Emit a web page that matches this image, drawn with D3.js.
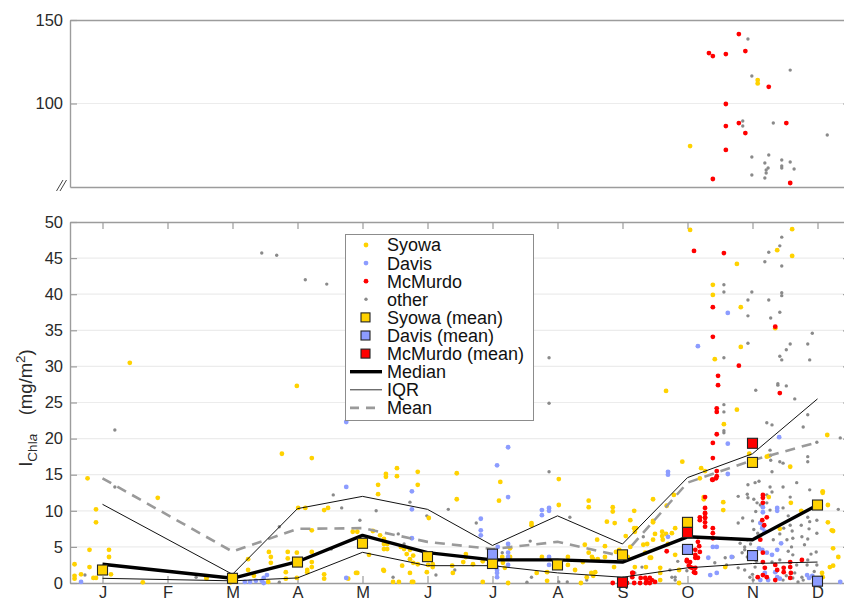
<!DOCTYPE html>
<html>
<head>
<meta charset="utf-8">
<script src="https://cdn.jsdelivr.net/npm/d3@7"></script>
<style>
	body { margin: 0; background: #fff; }
	text { font-family: "Liberation Sans", Arial, Helvetica, sans-serif; }
</style>
</head>
<body>
<svg id="chart" width="844" height="603"></svg>
<script>
// month labels, one per month (index = month, centre at i + 0.5)
var monthLabels = ["J","F","M","A","M","J","J","A","S","O","N","D"];
var yTicksLow = [0,5,10,15,20,25,30,35,40,45,50];
var yTicksHigh = [100,150];

// monthly statistics (null = no data for that month)
var median  = [2.6, null, 0.65, 2.95, 6.6, 4.2, 3.2, 3.2, 2.9, 6.4, 6.0, 10.8];
var iqrHigh = [10.9, null, 1.2, 10.3, 12.0, 10.2, 5.2, 9.3, 5.4, 14.6, 17.9, 25.5];
var iqrLow  = [0.65, null, 0.3, 0.7, 4.25, 2.4, 2.4, 1.4, 0.8, 2.1, 2.7, 2.9];
var meanAll = [14.5, null, 4.35, 7.5, 7.6, 5.7, 4.7, 5.7, 3.7, 13.9, 17.0, 19.5];

var syowaMean   = [1.8, null, 0.65, 2.9, 5.5, 3.65, 2.7, 2.5, 3.9, 8.4, 16.7, 10.8];
var davisMean   = [null, null, null, null, null, null, 4.0, null, null, 4.65, 3.8, 0.25];
var mcmurdoMean = [null, null, null, null, null, null, null, null, 0.1, 7.0, 19.35, null];

// individual samples: [month position (0-12), I_Chla]
var syowa = [
	[0.07,2.6],[0.07,1.0],[0.07,0.6],[0.17,1.2],[0.27,14.5],[0.3,4.6],[0.3,2.2],[0.4,10.2],[0.4,8.4],[0.36,0.7],[0.4,0.7],[0.6,4.6],[0.6,3.6],[0.63,1.2],[0.92,30.5],
	[1.12,0.1],[1.35,11.8],[2.1,0.8],[2.1,0.6],
	[2.47,0.1],[2.74,3.3],[2.74,1.8],[2.83,1.0],[3.05,0.15],[3.06,4.3],[3.09,3.6],[3.09,2.8],
	[3.26,17.9],[3.32,1.5],[3.32,0.6],[3.35,4.3],[3.35,3.4],[3.49,4.2],[3.49,0.7],[3.49,27.3],[3.51,10.4],[3.62,10.4],[3.65,1.8],[3.65,1.5],[3.72,17.3],[3.72,7.3],[3.72,4.3],[3.72,2.9],[3.72,2.2],[3.91,10.1],[3.97,10.4],[3.91,1.2],[3.91,0.6],
	[4.74,13.6],[4.74,12.3],[4.86,15.1],[4.86,14.7],[5.03,14.8],[5.03,15.9],[5.35,15.4],[5.35,13.6],[5.52,9.0],[5.95,15.2],[5.95,11.6],[4.35,7.1],[4.42,7.1],[4.66,7.2],[4.77,6.6],[4.83,6.1],[4.88,5.4],[4.83,5.4],[4.88,4.7],[4.83,4.7],[5.09,5.0],[5.14,4.7],[5.18,4.0],[5.23,4.6],[5.28,3.8],[5.23,3.3],[5.28,2.8],[5.35,2.6],[4.6,3.9],[4.83,1.7],[5.11,2.4],[4.97,0.15],[5.06,0.15],[5.28,0.15],[4.42,1.4],[4.28,0.6],[4.4,1.4],[4.82,1.8],[5.23,1.4],[5.26,0.15],
	[5.49,1.5],[5.51,2.5],[5.58,2.6],[5.58,2.2],[5.88,2.4],[5.89,1.4],[6.09,4.0],[6.09,3.6],[6.05,2.9],[6.2,2.6],[6.35,3.0],[6.35,0.15],
	[6.62,14.0],[6.6,11.4],[6.65,3.6],[6.66,2.8],[6.69,2.1],[6.77,4.8],[6.77,3.6],[6.74,0.0],[7.1,8.3],[7.1,8.0],[7.18,1.4],[7.26,3.6],
	[7.52,14.4],[7.52,10.8],[7.34,1.5],[7.34,0.3],[7.66,3.6],[7.66,2.5],[7.77,1.8],[7.86,0.0],[7.89,2.9],[7.98,11.4],[7.98,10.5],[7.98,4.2],[8.03,3.6],[8.05,3.3],[8.05,1.0],[8.08,1.5],
	[8.35,10.5],[8.35,9.9],[8.26,8.5],[8.38,8.3],[8.4,4.3],[8.11,6.0],[8.23,5.1],[7.92,5.3],[8.12,3.3],[8.23,3.6],[8.02,1.4],[7.95,0.8],[8.62,5.0],[8.68,7.6],[8.55,6.5],[8.62,8.7],[8.69,2.2],[8.97,11.6],[8.88,5.4],[8.94,3.5],[8.97,8.4],[9.11,7.1],[9.11,6.5],[9.18,10.7],[9.29,12.2],[9.2,5.4],[9.08,2.1],[9.08,0.4],[9.37,0.0],[8.68,10.0],[8.37,2.2],[8.45,4.6],[8.51,3.6],[8.69,7.1],[8.71,7.6],[8.82,5.3],[8.58,3.6],[8.85,4.2],[8.92,3.5],[8.97,6.0],[8.86,2.2],[9.17,6.8],[9.12,6.0],[9.31,3.9],[9.37,1.8],[9.08,1.4],[9.26,6.9],[9.31,7.6],[9.46,8.0],[9.0,6.8],[8.97,8.6],
	[9.17,26.6],[9.42,16.8],[9.71,15.9],[9.77,15.5],[9.69,14.5],[9.75,11.9],[9.75,11.6],[10.05,11.2],[10.05,10.1],[10.08,2.2],[9.54,48.9],[9.89,41.3],[9.89,39.9],[9.92,31.0],[10.06,22.0],[10.26,24.0],[10.26,44.2],[10.32,38.2],[10.32,32.7],[10.45,17.9],
	[10.88,46.1],[11.11,49.0],[11.11,45.3],[10.85,35.3],[10.75,11.9],[10.92,7.5],[11.09,11.1],[11.25,10.0],[11.08,16.1],[10.75,17.6],[10.72,17.5],[11.58,12.7],[11.58,12.5],[11.66,10.8],[11.66,8.4],[11.74,7.2],[11.74,4.8],[11.69,2.2],[11.74,2.4],[11.82,3.6],[11.57,1.4],[11.58,0.8],[11.65,20.5],[11.72,7.3],
	[9.54,74.5],[10.58,114],[10.58,112]
];
var davis = [
	[0.17,0.15],[2.69,0.15],[2.77,0.15],[2.86,0.3],[2.95,0.3],[2.98,0.7],[2.98,0.0],[3.03,1.1],
	[4.25,13.3],[5.26,12.7],[5.26,10.2],[5.26,6.2],[4.25,0.7],[4.25,22.3],
	[6.74,18.8],[6.57,16.3],[6.74,11.9],[6.32,8.9],[6.32,7.3],[6.32,6.6],[6.58,5.0],[6.57,2.2],[6.57,1.8],[6.57,1.4],[6.57,0.8],[6.74,5.4],[6.74,4.2],[6.74,3.6],[6.74,2.5],
	[7.26,10.1],[7.26,9.4],[7.37,10.4],[7.37,10.0],[7.37,3.6],[7.37,2.5],
	[9.2,15.4],[9.2,15.0],[9.2,6.4],[9.66,32.8],[10.12,37.4],[10.12,19.3],[10.12,15.1],[9.82,3.5],[9.89,5.0],[9.95,5.0],[9.85,1.1],[9.95,1.4],[10.18,3.6],
	[10.66,10.5],[10.66,9.8],[10.65,7.6],[10.88,10.4],[10.88,10.0],[10.62,8.3],[10.66,7.8],[10.69,7.1],[10.94,5.5],[10.88,4.6],[10.6,4.8],[10.65,4.6],[10.72,4.2],[10.8,3.9],[10.69,1.4],[10.62,0.4],[10.74,0.4],[10.88,0.8],[10.92,0.6],[10.85,1.5],[10.91,20.2],
	[11.34,1.1],[11.37,0.7],[11.42,1.0],[11.85,0.15]
];
var mcmurdo = [
	[8.35,0.0],[8.49,0.0],[8.57,0.0],[8.65,1.4],[8.68,0.0],[8.77,0.0],[8.78,0.7],[8.86,0.0],[8.87,0.4],[8.92,0.7],[8.92,0.0],[9.0,0.15],[9.18,4.4],[8.66,1.4],[8.65,0.8],[8.85,0.7],[8.95,0.4],
	[9.6,46.0],[10.06,45.7],[9.89,38.2],[9.89,34.1],[10.29,30.1],[9.97,28.7],[9.97,27.4],[9.95,24.2],[9.95,23.7],[9.95,20.6],[9.89,19.4],[9.89,17.3],[9.88,14.3],[9.94,14.5],[9.77,11.9],[9.77,10.4],[9.77,9.7],[9.77,9.0],[9.95,15.5],[9.95,14.8],[9.89,14.3],[9.77,9.6],[9.77,9.1],[9.77,8.4],[9.77,7.8],[9.69,9.1],[9.69,8.7],[9.89,7.6],[9.89,6.9],[9.89,6.2],[9.62,4.6],[9.62,3.9],[9.62,3.5],[9.54,2.9],[9.54,2.2],[9.6,1.5],[9.52,2.4],[9.57,2.1],[9.69,4.3],[9.66,3.5],[9.49,4.2],[9.49,3.2],[9.68,5.1],[9.66,5.7],[9.49,3.0],[9.62,1.4],[9.62,2.1],
	[10.85,35.5],[10.92,26.3],[10.66,12.2],[10.66,11.8],[10.66,11.1],[10.65,8.7],[10.68,8.0],[10.72,9.1],[10.62,6.0],[11.26,3.2],[11.08,2.9],[11.08,2.2],[11.09,1.4],[11.08,0.7],[10.98,2.1],[10.98,1.5],[10.88,1.8],[10.85,2.5],[10.85,0.4],[10.72,0.8],[10.69,2.1],[10.66,1.1],[10.58,0.8],[10.66,4.2],[10.66,2.9],
	[9.83,130.2],[9.89,128.4],[10.09,129.6],[10.29,141.6],[10.39,131.4],[10.75,110],[10.09,99.7],[10.09,86.5],[10.29,88.3],[11.02,88.3],[10.39,82.3],[10.09,72.2],[9.89,54.8],[11.08,52.4]
];
var other = [
	[0.23,1.1],[0.69,21.2],[0.69,13.3],[1.94,0.8],[2.95,45.7],[3.18,45.4],[3.22,7.8],[3.22,0.1],[3.62,42.0],[3.95,41.4],
	[4.05,12.2],[4.18,10.4],[4.46,8.7],[4.71,10.0],[5.23,11.2],[5.49,9.3],[5.82,10.2],[4.02,4.7],[4.97,0.8],[5.05,6.8],[5.14,5.4],[5.12,5.0],[5.63,1.1],[5.92,1.8],
	[6.25,8.3],[6.65,4.2],[7.03,0.1],[7.08,5.8],[7.1,0.8],[7.37,15.4],[7.37,31.2],[7.37,24.9],[7.52,0.15],[7.65,0.15],[7.69,9.1],[7.95,0.4],
	[8.8,2.2],[8.82,6.4],[8.69,1.4],[9.35,3.0],[9.31,0.4],[8.62,5.0],[9.23,1.8],[9.26,0.8],[8.97,0.4],[9.31,0.8],[9.49,1.7],
	[10.06,41.3],[10.06,40.3],[10.06,31.2],[10.06,24.7],[10.06,23.7],[10.06,21.1],[10.06,20.8],[10.08,3.5],[9.92,2.8],[10.1,2.5],[10.2,3.6],[10.34,4.2],[10.31,5.5],[10.38,4.6],[10.28,2.1],
	[10.49,40.3],[10.43,39.2],[10.43,37.0],[10.43,33.2],[10.55,26.7],[10.69,44.5],[10.75,45.8],[10.95,47.9],[10.92,46.7],[10.95,43.9],[10.95,40.2],[10.95,39.8],[10.75,39.2],[10.78,36.7],[10.92,37.5],[11.42,34.6],[11.08,33.1],[11.35,33.1],[11.02,32.3],[10.92,31.4],[10.95,30.9],[11.38,30.9],[10.89,27.6],[10.89,27.4],[11.02,27.3],[11.15,25.5],
	[10.43,13.6],[10.54,13.9],[10.6,14.1],[10.28,12.0],[10.42,12.3],[10.43,11.8],[10.52,11.6],[10.72,12.2],[10.72,11.1],[10.57,11.1],[10.35,9.0],[10.28,8.3],[10.58,6.9],
	[10.42,6.0],[10.38,5.0],[10.82,6.0],[10.92,6.8],[11.03,6.0],[11.11,7.2],[11.12,6.2],[10.98,7.6],[11.08,8.0],[11.25,8.0],[11.38,8.5],[11.37,7.5],[11.49,6.9],[11.26,6.4],[11.35,6.1],[10.97,10.4],[10.97,13.3],[11.18,13.9],[11.38,12.9],[11.08,11.9],[10.77,13.3],[10.8,12.6],[10.62,10.8],[10.77,10.1],[11.82,10.2],[11.85,0.15],[11.48,4.3],[11.49,2.5],[11.26,0.8],[11.28,0.4],
	[10.42,3.6],[10.38,1.8],[10.46,0.8],[10.54,2.2],[10.51,0.4],[10.8,2.9],[10.92,3.2],[11.12,3.9],[11.18,2.5],[11.15,1.4],[10.97,0.4],[11.2,0.15],[11.34,2.5],[11.35,3.2],[11.35,9.1],[11.49,8.7],
	[10.55,9.9],[10.5,8.6],[10.52,7.4],[10.47,5.4],[10.53,4.0],[10.56,3.0],[10.5,1.2],[11.05,9.3],[11.1,5.0],[11.05,4.4],[11.02,1.0],[11.12,0.7],[11.3,5.3],[11.4,4.0],[11.45,1.6],
	[10.97,16.6],[11.35,16.8],[11.49,19.5],[10.8,15.4],[10.77,18.4],[10.72,22.2],[10.8,21.9],[11.28,21.6],[11.35,23.3],[10.78,17.7],[10.78,17.0],[10.92,16.8],[11.35,17.5],[11.85,20.1],
	[10.43,138.6],[10.49,116.5],[11.08,120],[10.35,86.5],[10.35,89.5],[10.82,88.3],[11.65,81.1],[10.49,68],[10.75,69.2],[10.69,64.4],[10.95,66.2],[10.95,62.6],[10.95,61.4],[11.08,65],[11.14,60.8],[10.74,61.4],[10.71,60.2],[10.71,58.4],[10.49,57.2],[10.69,55.4]
];

var colSyowa = "#ffd200", colDavis = "#8c9cff", colMcMurdo = "#ff0000", colOther = "#8a8a8a";
var axisCol = "#9c9c9c", gridCol = "#ececec", txtCol = "#2a2a2a";

var svg = d3.select("#chart");

var x = d3.scaleLinear().domain([0, 12]).range([70, 850]);
var yLow = d3.scaleLinear().domain([0, 50]).range([583, 222]);
var yHigh = d3.scaleLinear().domain([50, 150]).range([187, 20]);

function yPos(v) { return v > 50 ? yHigh(v) : yLow(v); }

//grid
svg.append("g").selectAll("line")
	.data(yTicksLow.slice(1, -1))
	.enter().append("line")
	.attr("x1", x(0)).attr("x2", x(12))
	.attr("y1", function(d){ return yLow(d); })
	.attr("y2", function(d){ return yLow(d); })
	.attr("stroke", gridCol).attr("stroke-width", 1.2);
svg.append("line")
	.attr("x1", x(0)).attr("x2", x(12))
	.attr("y1", yHigh(100)).attr("y2", yHigh(100))
	.attr("stroke", gridCol).attr("stroke-width", 1.2);

//axes
function styleAxis(g) {
	g.select(".domain").attr("stroke", axisCol).attr("stroke-width", 1.4);
	g.selectAll(".tick line").attr("stroke", axisCol).attr("stroke-width", 1.2);
	g.selectAll(".tick text").attr("fill", txtCol).style("font-size", "16.5px");
}
var monthPos = monthLabels.map(function(d, i){ return i + 0.5; });

svg.append("g").attr("transform", "translate(" + x(0) + ",0)")
	.call(d3.axisLeft(yLow).tickValues(yTicksLow).tickSizeInner(-7).tickSizeOuter(0).tickPadding(7))
	.call(styleAxis);
svg.append("g").attr("transform", "translate(" + x(12) + ",0)")
	.call(d3.axisRight(yLow).tickValues(yTicksLow).tickSizeInner(-7).tickSizeOuter(0).tickFormat(""))
	.call(styleAxis);
svg.append("g").attr("transform", "translate(0," + yLow(0) + ")")
	.call(d3.axisBottom(x).tickValues(monthPos).tickSizeInner(-7).tickSizeOuter(0).tickPadding(3.5)
		.tickFormat(function(d, i){ return monthLabels[i]; }))
	.call(styleAxis);
svg.append("g").attr("transform", "translate(0," + yLow(50) + ")")
	.call(d3.axisTop(x).tickValues(monthPos).tickSizeInner(-7).tickSizeOuter(0).tickFormat(""))
	.call(styleAxis);

svg.append("g").attr("transform", "translate(" + x(0) + ",0)")
	.call(d3.axisLeft(yHigh).tickValues(yTicksHigh).tickSizeInner(-7).tickSizeOuter(0).tickPadding(7))
	.call(styleAxis);
svg.append("g").attr("transform", "translate(" + x(12) + ",0)")
	.call(d3.axisRight(yHigh).tickValues(yTicksHigh).tickSizeInner(-7).tickSizeOuter(0).tickFormat(""))
	.call(styleAxis);
svg.append("g").attr("transform", "translate(0," + yHigh(150) + ")")
	.call(d3.axisTop(x).tickValues([]).tickSizeOuter(0))
	.call(styleAxis);
svg.append("g").attr("transform", "translate(0," + yHigh(50) + ")")
	.call(d3.axisBottom(x).tickValues([]).tickSizeOuter(0))
	.call(styleAxis);

//axis break marks
[0, 3.5].forEach(function(o){
	svg.append("line")
		.attr("x1", 56.5 + o).attr("y1", 191)
		.attr("x2", 63 + o).attr("y2", 180)
		.attr("stroke", "#444").attr("stroke-width", 1);
});

//y title
var title = svg.append("text")
	.attr("transform", "translate(32,408) rotate(-90)")
	.attr("text-anchor", "middle")
	.attr("fill", txtCol)
	.style("font-size", "18.5px");
title.append("tspan").text("I");
title.append("tspan").attr("dy", 5).style("font-size", "13.5px").text("Chl");
title.append("tspan").style("font-size", "13.5px").style("font-style", "italic").text("a");
title.append("tspan").attr("dy", -5).text("\u2003(mg/m");
title.append("tspan").attr("dy", -7).style("font-size", "13.5px").text("2");
title.append("tspan").attr("dy", 7).text(")");

//dots
function drawDots(data, color, r) {
	svg.append("g").selectAll("circle")
		.data(data)
		.enter().append("circle")
		.attr("cx", function(d){ return x(d[0]); })
		.attr("cy", function(d){ return yPos(d[1]); })
		.attr("r", r)
		.attr("fill", color);
}
drawDots(other, colOther, 1.7);
drawDots(syowa, colSyowa, 2.4);
drawDots(davis, colDavis, 2.4);
drawDots(mcmurdo, colMcMurdo, 2.4);

//lines
function monthly(arr) {
	return arr.map(function(v, i){ return {m: i + 0.5, v: v}; })
		.filter(function(d){ return d.v !== null; });
}
var line = d3.line()
	.x(function(d){ return x(d.m); })
	.y(function(d){ return yLow(d.v); });

svg.append("path").datum(monthly(meanAll))
	.attr("d", line).attr("fill", "none")
	.attr("stroke", "#9a9a9a").attr("stroke-width", 2.6).attr("stroke-dasharray", "10,7");
[iqrHigh, iqrLow].forEach(function(arr){
	svg.append("path").datum(monthly(arr))
		.attr("d", line).attr("fill", "none")
		.attr("stroke", "#111").attr("stroke-width", 1);
});
svg.append("path").datum(monthly(median))
	.attr("d", line).attr("fill", "none")
	.attr("stroke", "#000").attr("stroke-width", 3.4).attr("stroke-linejoin", "round");

//station means
function drawSquares(arr, color) {
	svg.append("g").selectAll("rect")
		.data(monthly(arr))
		.enter().append("rect")
		.attr("x", function(d){ return x(d.m) - 5; })
		.attr("y", function(d){ return yLow(d.v) - 5; })
		.attr("width", 10).attr("height", 10)
		.attr("fill", color)
		.attr("stroke", "#222").attr("stroke-width", 1.1);
}
drawSquares(syowaMean, colSyowa);
drawSquares(davisMean, colDavis);
drawSquares(mcmurdoMean, colMcMurdo);

//legend
var legend = svg.append("g");
legend.append("rect")
	.attr("x", 345.5).attr("y", 234.5).attr("width", 188).attr("height", 186)
	.attr("fill", "#fff").attr("stroke", "#8c8c8c").attr("stroke-width", 1);
var items = [
	{label: "Syowa", type: "dot", color: colSyowa, r: 2.4},
	{label: "Davis", type: "dot", color: colDavis, r: 2.4},
	{label: "McMurdo", type: "dot", color: colMcMurdo, r: 2.4},
	{label: "other", type: "dot", color: colOther, r: 1.7},
	{label: "Syowa (mean)", type: "sq", color: colSyowa},
	{label: "Davis (mean)", type: "sq", color: colDavis},
	{label: "McMurdo (mean)", type: "sq", color: colMcMurdo},
	{label: "Median", type: "line", color: "#000", w: 3.4},
	{label: "IQR", type: "line", color: "#333", w: 1},
	{label: "Mean", type: "line", color: "#9a9a9a", w: 2.6, dash: "9,7"}
];
items.forEach(function(it, i){
	var cy = 245 + i * 18.1;
	if (it.type === "dot") {
		legend.append("circle").attr("cx", 366).attr("cy", cy).attr("r", it.r).attr("fill", it.color);
	} else if (it.type === "sq") {
		legend.append("rect").attr("x", 361).attr("y", cy - 4.5).attr("width", 9).attr("height", 9)
			.attr("fill", it.color).attr("stroke", "#222").attr("stroke-width", 1.1);
	} else {
		legend.append("line").attr("x1", 350).attr("x2", 382).attr("y1", cy).attr("y2", cy)
			.attr("stroke", it.color).attr("stroke-width", it.w)
			.attr("stroke-dasharray", it.dash || null);
	}
	legend.append("text")
		.attr("x", 387).attr("y", cy).attr("dy", "0.36em")
		.attr("fill", "#111").style("font-size", "18px")
		.text(it.label);
});
</script>
</body>
</html>
